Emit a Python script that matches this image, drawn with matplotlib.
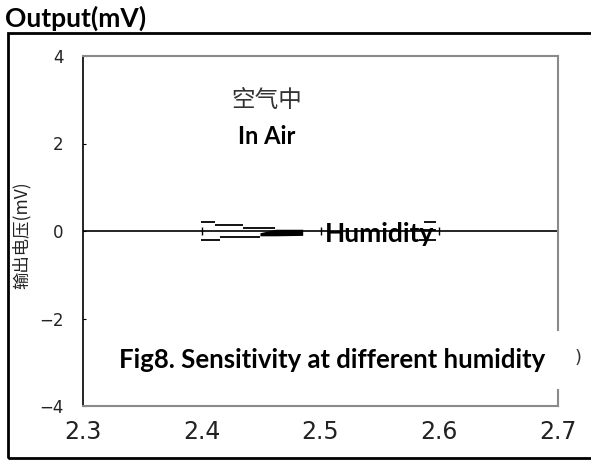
import numpy as np
import matplotlib.pyplot as plt
from matplotlib.patches import Rectangle

# 데이터
xticks = [2.3, 2.4, 2.5, 2.6, 2.7]
yticks = [-4, -2, 0, 2, 4]

# 위쪽 계단 (상승 branch)
upper_x0 = [2.399, 2.411, 2.435, 2.587]
upper_x1 = [2.411, 2.435, 2.462, 2.597]
upper_y = [0.20, 0.14, 0.07, 0.20]
# 아래쪽 계단 (하강 branch)
lower_x0 = [2.399, 2.415, 2.583]
lower_x1 = [2.415, 2.449, 2.597]
lower_y = [-0.20, -0.14, -0.20]
# 가운데 짧은 선
mid_x0 = [2.583]
mid_x1 = [2.597]
mid_y = [0.02]
# 두꺼운 부분
thick_x = [2.449, 2.462, 2.485]
thick_top = [-0.04, 0.04, 0.04]
thick_bot = [-0.11, -0.11, -0.10]

fig = plt.figure(figsize=(5.91, 4.62), dpi=100)
ax = fig.add_axes([83/591, 1-406/462, 475/591, 350/462])

ax.hlines(upper_y, upper_x0, upper_x1, color='black', lw=1.3)
ax.hlines(lower_y, lower_x0, lower_x1, color='black', lw=1.3)
ax.hlines(mid_y, mid_x0, mid_x1, color='black', lw=1.3)
ax.fill_between(thick_x, thick_bot, thick_top, color='black', lw=0)

ax.axhline(0, color='black', lw=1.2)
ax.vlines(xticks[1:-1], -0.1, 0.1, color='black', lw=1)

ax.set_xlim(2.3, 2.7)
ax.set_ylim(-4, 4)
ax.set_xticks(xticks)
ax.set_xticklabels([f"{v:.1f}" for v in xticks])
ax.set_yticks(yticks)
ax.set_yticklabels([str(v).replace('-', '\u2212') for v in yticks])
ax.tick_params(axis='x', length=0, pad=10, labelsize=17, labelcolor='#222222')
ax.tick_params(axis='y', direction='in', length=2, pad=14, labelsize=12, labelcolor='#222222')
for s in ['top', 'right', 'bottom']:
    ax.spines[s].set_color('#8a8a8a')
    ax.spines[s].set_linewidth(1.5)
ax.spines['left'].set_color('black')
ax.spines['left'].set_linewidth(1.2)

ax.text(2.455, 2.99, '空气中', ha='center', va='center', fontsize=17,
        family=['Noto Sans CJK SC', 'DejaVu Sans'], color='#333333')
ax.text(2.455, 2.15, 'In Air', ha='center', va='center', fontsize=17,
        family='Lato', fontweight='bold')
ax.text(2.504, -0.07, 'Humidity', ha='left', va='center', fontsize=19,
        family='Lato', fontweight='bold')

fig.text(21/591, 1-235/462, '输出电压(mV)', rotation=90, ha='center', va='center',
         fontsize=12.5, family=['Noto Sans CJK SC', 'DejaVu Sans'], color='#222222')
fig.text(578/591, 1-358/462, ')', ha='center', va='center', fontsize=13, color='#333333')

fig.text(332/591, 1-360/462, 'Fig8. Sensitivity at different humidity', ha='center', va='center',
         fontsize=18.5, family='Lato', fontweight='bold',
         bbox=dict(facecolor='white', edgecolor='none', pad=12))

fig.text(5/591, 1-27/462, 'Output(mV)', ha='left', va='baseline', fontsize=19,
         family='Lato', fontweight='bold')

# 바깥 테두리
fig.patches.append(Rectangle((8/591, 4/462), 1.0, 425/462, transform=fig.transFigure,
                             fill=False, edgecolor='black', lw=2, clip_on=False))

plt.savefig('out.png', dpi=100)
